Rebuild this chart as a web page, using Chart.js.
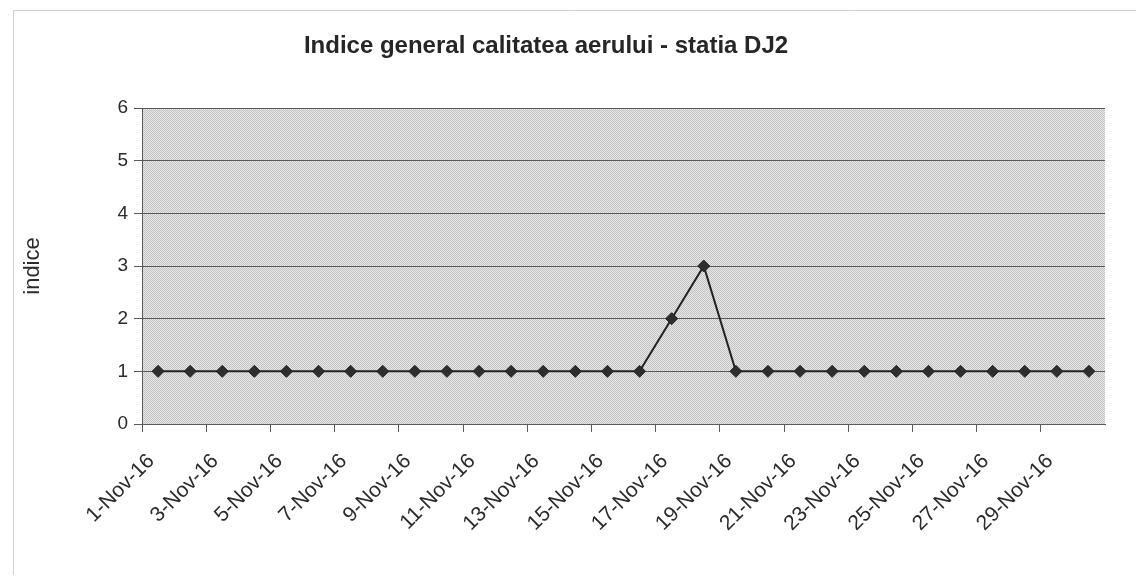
<!DOCTYPE html>
<html>
<head>
<meta charset="utf-8">
<script src="https://cdn.jsdelivr.net/npm/chart.js@4/dist/chart.umd.min.js"></script>
<style>
  html, body { margin: 0; padding: 0; background: #fff; }
  #wrap { width: 1137px; height: 576px; position: relative; }
</style>
</head>
<body>
<div id="wrap"><canvas id="c" width="1137" height="576"></canvas></div>
<script>
// ---- data ----
const categories = [
  '1-Nov-16','2-Nov-16','3-Nov-16','4-Nov-16','5-Nov-16','6-Nov-16','7-Nov-16','8-Nov-16',
  '9-Nov-16','10-Nov-16','11-Nov-16','12-Nov-16','13-Nov-16','14-Nov-16','15-Nov-16','16-Nov-16',
  '17-Nov-16','18-Nov-16','19-Nov-16','20-Nov-16','21-Nov-16','22-Nov-16','23-Nov-16','24-Nov-16',
  '25-Nov-16','26-Nov-16','27-Nov-16','28-Nov-16','29-Nov-16','30-Nov-16'
];
const indiceValues = [
  1,1,1,1,1,1,1,1,1,1,1,1,1,1,1,1,
  2,3,
  1,1,1,1,1,1,1,1,1,1,1,1
];
const yTicks = [0,1,2,3,4,5,6];
const chartTitle = 'Indice general calitatea aerului - statia DJ2';
const yTitle = 'indice';

// ---- plugins ----
const bgPlugin = {
  id: 'bgPattern',
  beforeDraw(chart) {
    const {ctx, chartArea: a} = chart;
    const pc = document.createElement('canvas');
    pc.width = 2; pc.height = 2;
    const p = pc.getContext('2d');
    p.fillStyle = '#e8e8e8'; p.fillRect(0,0,2,2);
    p.fillStyle = '#c2c2c2'; p.fillRect(0,0,1,1); p.fillRect(1,1,1,1);
    ctx.save();
    ctx.fillStyle = ctx.createPattern(pc, 'repeat');
    ctx.fillRect(a.left, a.top, a.right - a.left, a.bottom - a.top);
    // faint outer frame of the chart object
    ctx.strokeStyle = '#d0d0d0';
    ctx.lineWidth = 1;
    ctx.beginPath();
    ctx.moveTo(13.5, 575); ctx.lineTo(13.5, 10.5); ctx.lineTo(1136, 10.5);
    ctx.stroke();
    ctx.restore();
  },
  afterDraw(chart) {
    const {ctx} = chart;
    ctx.save();
    ctx.fillStyle = '#262626';
    ctx.font = 'bold 24px "Liberation Sans", Arial, sans-serif';
    ctx.textAlign = 'center';
    ctx.textBaseline = 'middle';
    ctx.fillText(chartTitle, 546, 46);
    ctx.restore();
  }
};

const gridCol = '#5a5a5a';
const textCol = '#2b2b2b';

new Chart(document.getElementById('c'), {
  type: 'line',
  data: {
    labels: categories,
    datasets: [{
      label: 'indice',
      data: indiceValues,
      borderColor: '#222',
      borderWidth: 2,
      backgroundColor: '#2e2e2e',
      pointStyle: 'rectRot',
      pointRadius: 6,
      pointBorderColor: '#222',
      pointBorderWidth: 1,
      tension: 0,
      fill: false
    }]
  },
  options: {
    responsive: false,
    animation: false,
    layout: { padding: { top: 108, left: 0, right: 32, bottom: 0 } },
    plugins: {
      legend: { display: false },
      title: { display: false },
      tooltip: { enabled: false }
    },
    scales: {
      x: {
        type: 'category',
        offset: true,
        afterFit(scale) { scale.height = 152; },
        grid: {
          offset: true,
          drawOnChartArea: false,
          drawTicks: true,
          tickLength: 8,
          tickColor: (c) => (c.index % 2 === 0 ? gridCol : 'rgba(0,0,0,0)')
        },
        border: { display: true, color: gridCol, width: 1 },
        ticks: {
          autoSkip: false,
          maxRotation: 45,
          minRotation: 45,
          padding: 17,
          labelOffset: -7,
          color: textCol,
          font: { family: '"Liberation Sans", Arial, sans-serif', size: 21 },
          callback: function(v, i) { return i % 2 === 0 ? this.getLabelForValue(v) : ''; }
        }
      },
      y: {
        min: 0,
        max: 6,
        afterFit(scale) { scale.width = 142; },
        afterBuildTicks(scale) { scale.ticks = yTicks.map(v => ({ value: v })); },
        grid: {
          color: gridCol,
          lineWidth: 1,
          tickLength: 8,
          tickColor: gridCol
        },
        border: { display: true, color: gridCol, width: 1 },
        ticks: {
          padding: 6,
          color: textCol,
          font: { family: '"Liberation Sans", Arial, sans-serif', size: 19 }
        },
        title: {
          display: true,
          text: yTitle,
          color: textCol,
          padding: { top: 20, bottom: 0 },
          font: { family: '"Liberation Sans", Arial, sans-serif', size: 22 }
        }
      }
    }
  },
  plugins: [bgPlugin]
});
</script>
</body>
</html>
